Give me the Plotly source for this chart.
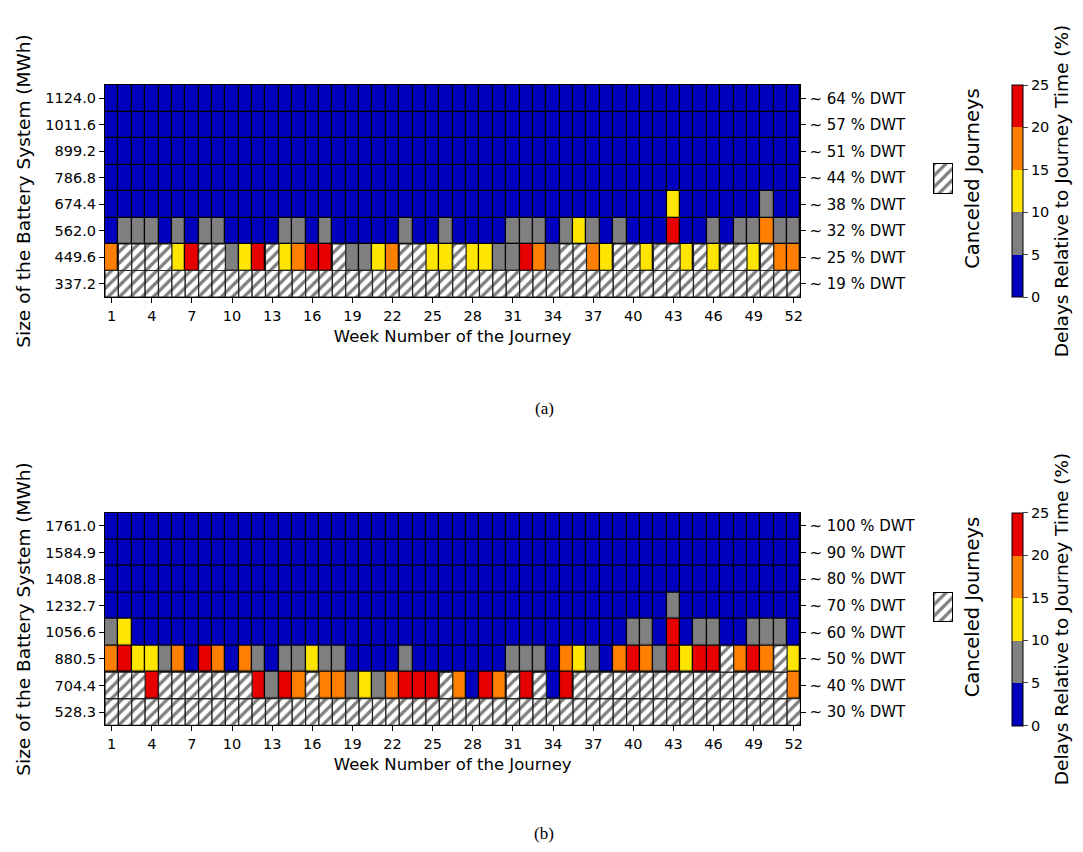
import plotly.graph_objects as go

# ---------------------------------------------------------------------------
# Data: delay relative to journey time (%) per week (1..52) and battery size.
# None marks a canceled journey.
# ---------------------------------------------------------------------------
weeks = list(range(1, 53))
week_ticks = [1, 4, 7, 10, 13, 16, 19, 22, 25, 28, 31, 34, 37, 40, 43, 46, 49, 52]

# (a) battery sizes, bottom to top
sizes_a = ["337.2", "449.6", "562.0", "674.4", "786.8", "899.2", "1011.6", "1124.0"]
dwt_a = ["~ 19 % DWT", "~ 25 % DWT", "~ 32 % DWT", "~ 38 % DWT",
         "~ 44 % DWT", "~ 51 % DWT", "~ 57 % DWT", "~ 64 % DWT"]

a_337_2 = [None, None, None, None, None, None, None, None, None, None, None, None, None,
           None, None, None, None, None, None, None, None, None, None, None, None, None,
           None, None, None, None, None, None, None, None, None, None, None, None, None,
           None, None, None, None, None, None, None, None, None, None, None, None, None]
a_449_6 = [17.5, None, None, None, None, 12.5, 22.5, None, None, 7.5, 12.5, 22.5, None,
           12.5, 17.5, 22.5, 22.5, None, 7.5, 7.5, 12.5, 17.5, None, None, 12.5, 12.5,
           None, 12.5, 12.5, 7.5, 7.5, 22.5, 17.5, 7.5, None, None, 17.5, 12.5, None,
           None, 12.5, None, None, 12.5, None, 12.5, None, None, 12.5, None, 17.5, 17.5]
a_562_0 = [2.5, 7.5, 7.5, 7.5, 2.5, 7.5, 2.5, 7.5, 7.5, 2.5, 2.5, 2.5, 2.5,
           7.5, 7.5, 2.5, 7.5, 2.5, 2.5, 2.5, 2.5, 2.5, 7.5, 2.5, 2.5, 7.5,
           2.5, 2.5, 2.5, 2.5, 7.5, 7.5, 7.5, 2.5, 7.5, 12.5, 7.5, 2.5, 7.5,
           2.5, 2.5, 2.5, 22.5, 2.5, 2.5, 7.5, 2.5, 7.5, 7.5, 17.5, 7.5, 7.5]
a_674_4 = [2.5, 2.5, 2.5, 2.5, 2.5, 2.5, 2.5, 2.5, 2.5, 2.5, 2.5, 2.5, 2.5,
           2.5, 2.5, 2.5, 2.5, 2.5, 2.5, 2.5, 2.5, 2.5, 2.5, 2.5, 2.5, 2.5,
           2.5, 2.5, 2.5, 2.5, 2.5, 2.5, 2.5, 2.5, 2.5, 2.5, 2.5, 2.5, 2.5,
           2.5, 2.5, 2.5, 12.5, 2.5, 2.5, 2.5, 2.5, 2.5, 2.5, 7.5, 2.5, 2.5]
a_786_8 = [2.5, 2.5, 2.5, 2.5, 2.5, 2.5, 2.5, 2.5, 2.5, 2.5, 2.5, 2.5, 2.5,
           2.5, 2.5, 2.5, 2.5, 2.5, 2.5, 2.5, 2.5, 2.5, 2.5, 2.5, 2.5, 2.5,
           2.5, 2.5, 2.5, 2.5, 2.5, 2.5, 2.5, 2.5, 2.5, 2.5, 2.5, 2.5, 2.5,
           2.5, 2.5, 2.5, 2.5, 2.5, 2.5, 2.5, 2.5, 2.5, 2.5, 2.5, 2.5, 2.5]
a_899_2 = list(a_786_8)
a_1011_6 = list(a_786_8)
a_1124_0 = list(a_786_8)

# (b) battery sizes, bottom to top
sizes_b = ["528.3", "704.4", "880.5", "1056.6", "1232.7", "1408.8", "1584.9", "1761.0"]
dwt_b = ["~ 30 % DWT", "~ 40 % DWT", "~ 50 % DWT", "~ 60 % DWT",
         "~ 70 % DWT", "~ 80 % DWT", "~ 90 % DWT", "~ 100 % DWT"]

b_528_3 = list(a_337_2)
b_704_4 = [None, None, None, 22.5, None, None, None, None, None, None, None, 22.5, 7.5,
           22.5, 17.5, None, 17.5, 17.5, 7.5, 12.5, 7.5, 17.5, 22.5, 22.5, 22.5, None,
           17.5, 2.5, 22.5, 17.5, None, 22.5, None, 2.5, 22.5, None, None, None, None,
           None, None, None, None, None, None, None, None, None, None, None, None, 17.5]
b_880_5 = [17.5, 22.5, 12.5, 12.5, 7.5, 17.5, 2.5, 22.5, 17.5, 2.5, 17.5, 7.5, 2.5,
           7.5, 7.5, 12.5, 7.5, 7.5, 2.5, 2.5, 2.5, 2.5, 7.5, 2.5, 2.5, 2.5,
           2.5, 2.5, 2.5, 2.5, 7.5, 7.5, 7.5, 2.5, 17.5, 12.5, 7.5, 2.5, 17.5,
           22.5, 17.5, 7.5, 22.5, 12.5, 22.5, 22.5, None, 17.5, 22.5, 17.5, None, 12.5]
b_1056_6 = [7.5, 12.5, 2.5, 2.5, 2.5, 2.5, 2.5, 2.5, 2.5, 2.5, 2.5, 2.5, 2.5,
            2.5, 2.5, 2.5, 2.5, 2.5, 2.5, 2.5, 2.5, 2.5, 2.5, 2.5, 2.5, 2.5,
            2.5, 2.5, 2.5, 2.5, 2.5, 2.5, 2.5, 2.5, 2.5, 2.5, 2.5, 2.5, 2.5,
            7.5, 7.5, 2.5, 22.5, 2.5, 7.5, 7.5, 2.5, 2.5, 7.5, 7.5, 7.5, 2.5]
b_1232_7 = [2.5, 2.5, 2.5, 2.5, 2.5, 2.5, 2.5, 2.5, 2.5, 2.5, 2.5, 2.5, 2.5,
            2.5, 2.5, 2.5, 2.5, 2.5, 2.5, 2.5, 2.5, 2.5, 2.5, 2.5, 2.5, 2.5,
            2.5, 2.5, 2.5, 2.5, 2.5, 2.5, 2.5, 2.5, 2.5, 2.5, 2.5, 2.5, 2.5,
            2.5, 2.5, 2.5, 7.5, 2.5, 2.5, 2.5, 2.5, 2.5, 2.5, 2.5, 2.5, 2.5]
b_1408_8 = list(a_786_8)
b_1584_9 = list(a_786_8)
b_1761_0 = list(a_786_8)

grid_a = [a_337_2, a_449_6, a_562_0, a_674_4, a_786_8, a_899_2, a_1011_6, a_1124_0]
grid_b = [b_528_3, b_704_4, b_880_5, b_1056_6, b_1232_7, b_1408_8, b_1584_9, b_1761_0]

# ---------------------------------------------------------------------------
# Styling
# ---------------------------------------------------------------------------
W, H = 1083, 852
FONT = "DejaVu Sans"
band_colors = ["#0000BE", "#808080", "#FFE600", "#FF7F00", "#E60000"]
colorscale = []
for i, c in enumerate(band_colors):
    colorscale.append([i / 5, c])
    colorscale.append([(i + 1) / 5, c])

hatch = dict(shape="/", fgcolor="black", bgcolor="white", size=8, solidity=0.4)


def px_x(px):
    return px / W


def px_y(px):
    return 1 - px / H


panels = [
    dict(grid=grid_a, sizes=sizes_a, dwt=dwt_a, top=85.0, bottom=297.0,
         legend_top=164, legend_bottom=193, caption="(a)", caption_y=408),
    dict(grid=grid_b, sizes=sizes_b, dwt=dwt_b, top=512.7, bottom=725.3,
         legend_top=593, legend_bottom=621, caption="(b)", caption_y=833),
]

x_left, x_right = 105.3, 802.7
fig = go.Figure()
layout = dict(
    width=W, height=H,
    margin=dict(l=0, r=0, t=0, b=0),
    paper_bgcolor="white",
    plot_bgcolor="black",
    showlegend=False,
    barmode="overlay",
    font=dict(family=FONT, color="black", size=14.5),
    annotations=[],
)

for p_i, p in enumerate(panels):
    n = p_i + 1
    xa = "x" if n == 1 else f"x{n}"
    ya = "y" if n == 1 else f"y{n}"
    rows = list(range(len(p["sizes"])))
    y_dom = [px_y(p["bottom"]), px_y(p["top"])]

    # coloured cells
    fig.add_trace(go.Heatmap(
        x=weeks, y=rows, z=p["grid"],
        zmin=0, zmax=25, colorscale=colorscale,
        xgap=1.3, ygap=1.3,
        xaxis=xa, yaxis=ya,
        hoverongaps=False,
        colorbar=dict(
            x=px_x(1015), xanchor="left", xpad=0,
            y=(y_dom[0] + y_dom[1]) / 2, yanchor="middle", ypad=0,
            len=y_dom[1] - y_dom[0], lenmode="fraction",
            thickness=11, outlinewidth=1, outlinecolor="black",
            tickvals=[0, 5, 10, 15, 20, 25], ticks="outside", ticklen=5,
            tickfont=dict(size=14.5),
            title=dict(text="Delays Relative to Journey Time (%)", side="right",
                       font=dict(size=18.5)),
        ),
    ))

    # canceled journeys drawn as hatched cells
    cx, cbase = [], []
    for r, row in zip(rows, p["grid"]):
        for wk, v in zip(weeks, row):
            if v is None:
                cx.append(wk)
                cbase.append(r - 0.5)
    fig.add_trace(go.Bar(
        x=cx, y=[1] * len(cx), base=cbase, width=1,
        xaxis=xa, yaxis=ya,
        marker=dict(color="white", line=dict(color="#222222", width=1.2),
                    pattern=hatch),
        hoverinfo="skip",
    ))

    # secondary axis carrying the DWT labels
    ya2 = f"y{n + 2}"
    fig.add_trace(go.Scatter(x=[None], y=[None], xaxis=xa, yaxis=ya2,
                             mode="markers", hoverinfo="skip"))

    # legend swatch for canceled journeys
    xl = f"x{n + 4}"
    yl = f"y{n + 4}"
    fig.add_trace(go.Bar(
        x=[0], y=[1], width=1, xaxis=xl, yaxis=yl,
        marker=dict(color="white", line=dict(width=0), pattern=hatch),
        hoverinfo="skip",
    ))

    key_x = "xaxis" if n == 1 else f"xaxis{n}"
    key_y = "yaxis" if n == 1 else f"yaxis{n}"
    layout[key_x] = dict(
        domain=[px_x(x_left), px_x(x_right)], anchor=ya,
        range=[0.5, 52.5], tickvals=week_ticks,
        ticks="outside", ticklen=5, tickcolor="black",
        showline=True, linecolor="black", linewidth=1.2, mirror=True,
        showgrid=False, zeroline=False,
        title=dict(text="Week Number of the Journey", font=dict(size=16.5), standoff=7),
    )
    layout[key_y] = dict(
        domain=y_dom, anchor=xa,
        range=[-0.5, len(rows) - 0.5], tickvals=rows, ticktext=p["sizes"],
        ticks="outside", ticklen=5, tickcolor="black",
        showline=True, linecolor="black", linewidth=1.2, mirror=True,
        showgrid=False, zeroline=False,
        title=dict(text="Size of the Battery System (MWh)", font=dict(size=18.5),
                   standoff=9),
    )
    layout[f"yaxis{n + 2}"] = dict(
        overlaying=ya, side="right", anchor=xa,
        range=[-0.5, len(rows) - 0.5], tickvals=rows, ticktext=p["dwt"],
        ticks="outside", ticklen=5, tickcolor="black",
        tickfont=dict(size=15),
        showline=False, showgrid=False, zeroline=False,
    )
    layout[f"xaxis{n + 4}"] = dict(
        domain=[px_x(937), px_x(955)], anchor=yl, range=[-0.5, 0.5],
        showline=True, linecolor="black", linewidth=1, mirror=True,
        showgrid=False, zeroline=False, showticklabels=False, ticks="",
    )
    layout[f"yaxis{n + 4}"] = dict(
        domain=[px_y(p["legend_bottom"]), px_y(p["legend_top"])], anchor=xl,
        range=[0, 1],
        showline=True, linecolor="black", linewidth=1, mirror=True,
        showgrid=False, zeroline=False, showticklabels=False, ticks="",
    )

    layout["annotations"].append(dict(
        text="Canceled Journeys", textangle=-90,
        x=px_x(975), y=px_y((p["legend_top"] + p["legend_bottom"]) / 2),
        xref="paper", yref="paper", xanchor="center", yanchor="middle",
        showarrow=False, font=dict(size=19.5),
    ))
    layout["annotations"].append(dict(
        text=p["caption"],
        x=px_x(546), y=px_y(p["caption_y"]),
        xref="paper", yref="paper", xanchor="center", yanchor="middle",
        showarrow=False, font=dict(family="Liberation Serif", size=17),
    ))

fig.update_layout(**layout)
fig.write_html("out.html")
